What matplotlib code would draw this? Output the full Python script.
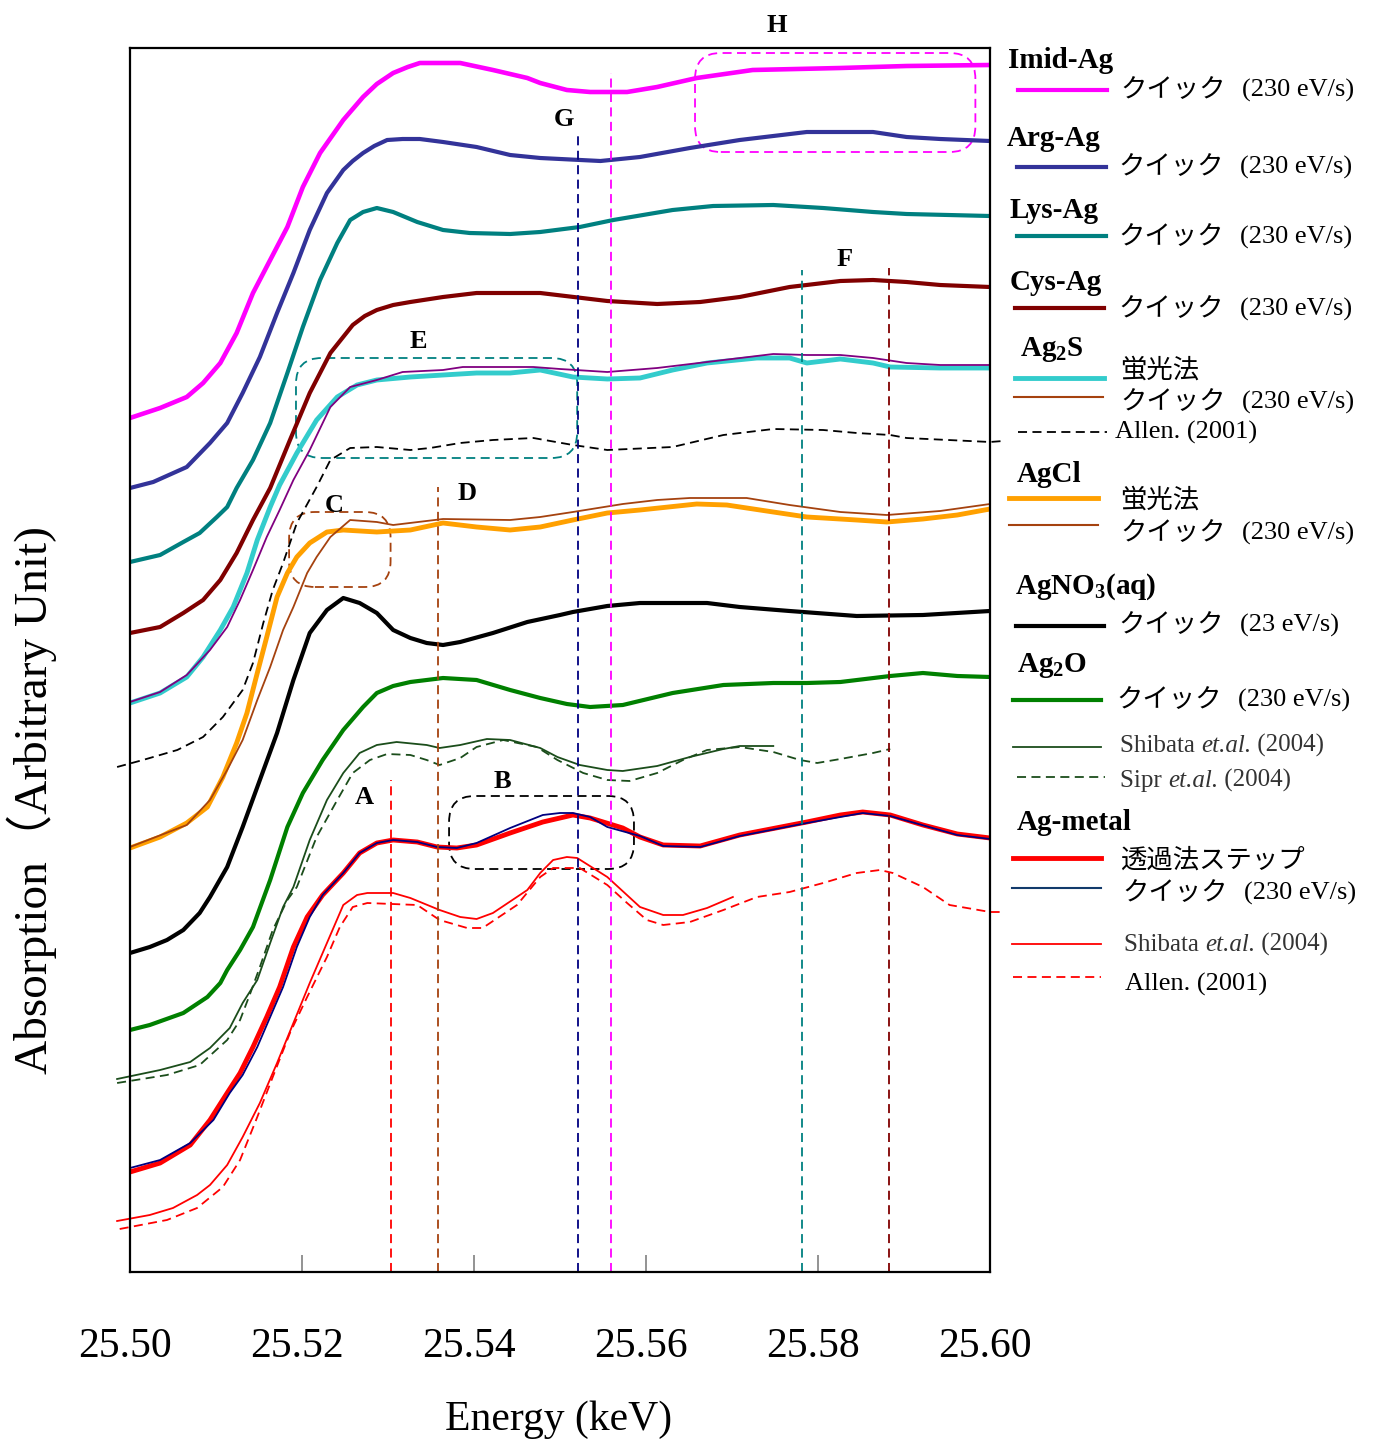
import matplotlib
matplotlib.use('Agg')
import matplotlib.pyplot as plt
from matplotlib.patches import FancyBboxPatch
from matplotlib.lines import Line2D
from matplotlib.transforms import ScaledTranslation

plt.rcParams['font.family'] = ['Liberation Serif', 'Noto Sans CJK JP']
plt.rcParams['mathtext.fontset'] = 'custom'
plt.rcParams['mathtext.rm'] = 'Liberation Serif'
plt.rcParams['mathtext.bf'] = 'Liberation Serif:bold'
plt.rcParams['mathtext.it'] = 'Liberation Serif:italic'

# ---- data (energy in keV, absorption in arbitrary units) ----
imid_e = [25.5000, 25.5035, 25.5066, 25.5085, 25.5105, 25.5124, 25.5143, 25.5163, 25.5183, 25.5201, 25.5221, 25.5248, 25.5271, 25.5287, 25.5306, 25.5323, 25.5337, 25.5360, 25.5384, 25.5422, 25.5462, 25.5477, 25.5508, 25.5535, 25.5578, 25.5613, 25.5659, 25.5724, 25.5826, 25.5903, 25.6000]
imid_y = [8.54, 8.64, 8.75, 8.89, 9.09, 9.39, 9.79, 10.12, 10.45, 10.85, 11.19, 11.52, 11.75, 11.88, 11.99, 12.05, 12.09, 12.09, 12.09, 12.02, 11.94, 11.89, 11.82, 11.80, 11.80, 11.85, 11.94, 12.02, 12.04, 12.06, 12.07]

arg_e = [25.5000, 25.5027, 25.5066, 25.5093, 25.5113, 25.5131, 25.5151, 25.5171, 25.5190, 25.5209, 25.5229, 25.5248, 25.5259, 25.5271, 25.5284, 25.5299, 25.5317, 25.5337, 25.5364, 25.5403, 25.5442, 25.5477, 25.5547, 25.5593, 25.5651, 25.5709, 25.5787, 25.5864, 25.5903, 25.5942, 25.6000]
arg_y = [7.84, 7.90, 8.05, 8.29, 8.49, 8.79, 9.15, 9.59, 9.99, 10.42, 10.79, 11.02, 11.11, 11.19, 11.26, 11.32, 11.33, 11.33, 11.30, 11.25, 11.17, 11.14, 11.11, 11.15, 11.24, 11.32, 11.40, 11.40, 11.35, 11.33, 11.31]

lys_e = [25.5000, 25.5035, 25.5062, 25.5081, 25.5101, 25.5113, 25.5124, 25.5143, 25.5163, 25.5183, 25.5201, 25.5221, 25.5241, 25.5256, 25.5271, 25.5287, 25.5306, 25.5334, 25.5364, 25.5395, 25.5442, 25.5477, 25.5523, 25.5562, 25.5631, 25.5678, 25.5748, 25.5806, 25.5864, 25.5903, 25.6000]
lys_y = [7.10, 7.17, 7.30, 7.39, 7.55, 7.65, 7.84, 8.12, 8.49, 8.99, 9.45, 9.92, 10.29, 10.52, 10.60, 10.64, 10.60, 10.50, 10.42, 10.39, 10.38, 10.40, 10.45, 10.52, 10.62, 10.66, 10.67, 10.64, 10.60, 10.58, 10.56]

cys_e = [25.5000, 25.5035, 25.5062, 25.5085, 25.5105, 25.5124, 25.5143, 25.5163, 25.5186, 25.5209, 25.5233, 25.5259, 25.5273, 25.5287, 25.5306, 25.5326, 25.5364, 25.5403, 25.5477, 25.5555, 25.5613, 25.5663, 25.5709, 25.5767, 25.5826, 25.5864, 25.5903, 25.5942, 25.6000]
cys_y = [6.39, 6.45, 6.59, 6.72, 6.92, 7.19, 7.52, 7.84, 8.32, 8.79, 9.19, 9.47, 9.56, 9.62, 9.67, 9.70, 9.75, 9.79, 9.79, 9.71, 9.68, 9.70, 9.75, 9.85, 9.91, 9.92, 9.90, 9.87, 9.85]

ag2s_fl_e = [25.5000, 25.5035, 25.5066, 25.5085, 25.5105, 25.5120, 25.5136, 25.5148, 25.5163, 25.5174, 25.5194, 25.5217, 25.5241, 25.5264, 25.5287, 25.5326, 25.5364, 25.5403, 25.5442, 25.5477, 25.5515, 25.5555, 25.5593, 25.5631, 25.5671, 25.5729, 25.5767, 25.5787, 25.5826, 25.5864, 25.5884, 25.5942, 25.6000]
ag2s_fl_y = [5.69, 5.79, 5.95, 6.15, 6.42, 6.65, 6.99, 7.32, 7.65, 7.87, 8.19, 8.52, 8.75, 8.87, 8.92, 8.95, 8.97, 8.99, 8.99, 9.02, 8.95, 8.93, 8.94, 9.02, 9.09, 9.14, 9.14, 9.09, 9.13, 9.09, 9.05, 9.04, 9.04]

ag2s_q_e = [25.5000, 25.5035, 25.5066, 25.5093, 25.5113, 25.5128, 25.5143, 25.5159, 25.5174, 25.5190, 25.5209, 25.5233, 25.5256, 25.5287, 25.5317, 25.5364, 25.5387, 25.5469, 25.5500, 25.5555, 25.5613, 25.5671, 25.5748, 25.5787, 25.5826, 25.5864, 25.5903, 25.5942, 25.6000]
ag2s_q_y = [5.70, 5.80, 5.97, 6.22, 6.45, 6.72, 7.02, 7.35, 7.62, 7.92, 8.22, 8.65, 8.85, 8.92, 9.00, 9.02, 9.05, 9.05, 9.03, 9.00, 9.04, 9.10, 9.18, 9.17, 9.17, 9.14, 9.09, 9.07, 9.07]

ag2s_allen_e = [25.4985, 25.5015, 25.5055, 25.5085, 25.5108, 25.5131, 25.5143, 25.5155, 25.5166, 25.5178, 25.5194, 25.5217, 25.5233, 25.5256, 25.5287, 25.5326, 25.5349, 25.5384, 25.5422, 25.5469, 25.5515, 25.5555, 25.5631, 25.5690, 25.5748, 25.5806, 25.5845, 25.5884, 25.5903, 25.6000, 25.6015]
ag2s_allen_y = [5.05, 5.12, 5.22, 5.35, 5.55, 5.82, 6.09, 6.49, 6.82, 7.09, 7.49, 7.85, 8.12, 8.24, 8.25, 8.22, 8.24, 8.29, 8.32, 8.34, 8.27, 8.22, 8.25, 8.37, 8.43, 8.42, 8.39, 8.37, 8.34, 8.30, 8.31]

agcl_fl_e = [25.5000, 25.5035, 25.5066, 25.5090, 25.5108, 25.5124, 25.5136, 25.5148, 25.5159, 25.5171, 25.5183, 25.5194, 25.5209, 25.5229, 25.5248, 25.5287, 25.5326, 25.5364, 25.5403, 25.5442, 25.5477, 25.5515, 25.5555, 25.5593, 25.5659, 25.5694, 25.5748, 25.5787, 25.5845, 25.5880, 25.5922, 25.5962, 25.6000]
agcl_fl_y = [4.24, 4.35, 4.49, 4.65, 4.95, 5.29, 5.59, 5.99, 6.35, 6.75, 6.99, 7.15, 7.29, 7.40, 7.42, 7.40, 7.42, 7.49, 7.45, 7.42, 7.45, 7.52, 7.59, 7.62, 7.68, 7.67, 7.60, 7.55, 7.52, 7.50, 7.53, 7.57, 7.63]

agcl_q_e = [25.5000, 25.5066, 25.5093, 25.5113, 25.5131, 25.5148, 25.5163, 25.5178, 25.5190, 25.5206, 25.5217, 25.5233, 25.5256, 25.5287, 25.5306, 25.5364, 25.5442, 25.5477, 25.5515, 25.5573, 25.5613, 25.5651, 25.5717, 25.5767, 25.5826, 25.5880, 25.5942, 25.6000]
agcl_q_y = [4.25, 4.47, 4.72, 5.02, 5.32, 5.72, 6.05, 6.42, 6.65, 6.99, 7.15, 7.35, 7.52, 7.50, 7.47, 7.53, 7.52, 7.55, 7.60, 7.68, 7.72, 7.74, 7.74, 7.67, 7.60, 7.57, 7.61, 7.68]

agno3_e = [25.5000, 25.5023, 25.5043, 25.5062, 25.5081, 25.5093, 25.5113, 25.5131, 25.5151, 25.5171, 25.5190, 25.5209, 25.5229, 25.5248, 25.5267, 25.5287, 25.5306, 25.5326, 25.5345, 25.5364, 25.5384, 25.5422, 25.5462, 25.5500, 25.5515, 25.5555, 25.5593, 25.5671, 25.5709, 25.5767, 25.5845, 25.5922, 25.6000]
agno3_y = [3.19, 3.25, 3.32, 3.42, 3.59, 3.75, 4.05, 4.45, 4.92, 5.39, 5.92, 6.39, 6.62, 6.74, 6.69, 6.59, 6.42, 6.34, 6.29, 6.27, 6.30, 6.39, 6.50, 6.57, 6.60, 6.66, 6.69, 6.69, 6.65, 6.61, 6.56, 6.57, 6.61]

ag2o_e = [25.5000, 25.5023, 25.5062, 25.5090, 25.5105, 25.5113, 25.5128, 25.5143, 25.5163, 25.5183, 25.5201, 25.5224, 25.5248, 25.5271, 25.5287, 25.5306, 25.5326, 25.5364, 25.5403, 25.5442, 25.5477, 25.5508, 25.5535, 25.5573, 25.5631, 25.5690, 25.5748, 25.5787, 25.5826, 25.5884, 25.5922, 25.5962, 25.6000]
ag2o_y = [2.42, 2.47, 2.59, 2.75, 2.89, 3.02, 3.22, 3.45, 3.92, 4.45, 4.79, 5.12, 5.42, 5.65, 5.79, 5.86, 5.90, 5.94, 5.92, 5.82, 5.74, 5.68, 5.65, 5.67, 5.79, 5.87, 5.89, 5.89, 5.90, 5.96, 5.99, 5.96, 5.95]

ag2o_shibata_e = [25.4985, 25.5035, 25.5070, 25.5093, 25.5116, 25.5131, 25.5148, 25.5163, 25.5178, 25.5190, 25.5209, 25.5229, 25.5248, 25.5267, 25.5287, 25.5310, 25.5345, 25.5360, 25.5384, 25.5415, 25.5442, 25.5477, 25.5497, 25.5523, 25.5555, 25.5573, 25.5613, 25.5651, 25.5690, 25.5709, 25.5748]
ag2o_shibata_y = [1.93, 2.02, 2.10, 2.24, 2.44, 2.69, 2.92, 3.29, 3.65, 3.85, 4.32, 4.72, 4.99, 5.19, 5.27, 5.30, 5.27, 5.24, 5.27, 5.33, 5.32, 5.24, 5.15, 5.07, 5.02, 5.01, 5.06, 5.15, 5.23, 5.26, 5.26]

ag2o_sipr_e = [25.4985, 25.5043, 25.5081, 25.5113, 25.5128, 25.5140, 25.5151, 25.5166, 25.5183, 25.5194, 25.5217, 25.5241, 25.5259, 25.5279, 25.5299, 25.5326, 25.5345, 25.5360, 25.5384, 25.5403, 25.5434, 25.5473, 25.5497, 25.5527, 25.5555, 25.5581, 25.5613, 25.5643, 25.5671, 25.5709, 25.5748, 25.5779, 25.5799, 25.5826, 25.5864, 25.5884]
ag2o_sipr_y = [1.89, 1.97, 2.07, 2.32, 2.52, 2.79, 3.05, 3.42, 3.72, 3.85, 4.35, 4.72, 4.99, 5.12, 5.18, 5.17, 5.12, 5.07, 5.14, 5.25, 5.32, 5.25, 5.12, 4.99, 4.92, 4.91, 4.99, 5.12, 5.22, 5.25, 5.20, 5.12, 5.09, 5.13, 5.19, 5.23]

agm_step_e = [25.5000, 25.5035, 25.5070, 25.5093, 25.5113, 25.5128, 25.5143, 25.5159, 25.5174, 25.5190, 25.5206, 25.5224, 25.5248, 25.5267, 25.5287, 25.5306, 25.5334, 25.5357, 25.5380, 25.5403, 25.5442, 25.5480, 25.5515, 25.5535, 25.5573, 25.5593, 25.5620, 25.5663, 25.5709, 25.5787, 25.5826, 25.5852, 25.5884, 25.5922, 25.5962, 25.6000]
agm_step_y = [1.00, 1.09, 1.27, 1.52, 1.79, 1.99, 2.25, 2.55, 2.85, 3.25, 3.55, 3.77, 3.99, 4.19, 4.29, 4.32, 4.30, 4.25, 4.24, 4.27, 4.39, 4.50, 4.57, 4.54, 4.44, 4.35, 4.27, 4.26, 4.37, 4.50, 4.57, 4.60, 4.57, 4.47, 4.38, 4.34]

agm_q_e = [25.5000, 25.5035, 25.5070, 25.5097, 25.5116, 25.5131, 25.5148, 25.5163, 25.5178, 25.5194, 25.5209, 25.5224, 25.5248, 25.5267, 25.5287, 25.5306, 25.5334, 25.5357, 25.5380, 25.5403, 25.5442, 25.5480, 25.5500, 25.5515, 25.5535, 25.5555, 25.5593, 25.5620, 25.5663, 25.5709, 25.5787, 25.5852, 25.5884, 25.5962, 25.6000]
agm_q_y = [1.04, 1.12, 1.29, 1.52, 1.79, 1.97, 2.25, 2.55, 2.85, 3.25, 3.55, 3.77, 3.99, 4.19, 4.29, 4.32, 4.30, 4.25, 4.24, 4.29, 4.44, 4.57, 4.59, 4.59, 4.55, 4.45, 4.36, 4.26, 4.25, 4.36, 4.49, 4.59, 4.56, 4.37, 4.33]

agm_shibata_e = [25.4985, 25.5023, 25.5050, 25.5078, 25.5093, 25.5113, 25.5131, 25.5151, 25.5171, 25.5190, 25.5209, 25.5229, 25.5248, 25.5264, 25.5276, 25.5306, 25.5326, 25.5360, 25.5384, 25.5403, 25.5422, 25.5462, 25.5477, 25.5492, 25.5508, 25.5520, 25.5555, 25.5593, 25.5620, 25.5643, 25.5671, 25.5701]
agm_shibata_y = [0.51, 0.57, 0.64, 0.77, 0.87, 1.07, 1.35, 1.69, 2.09, 2.49, 2.89, 3.29, 3.67, 3.77, 3.79, 3.79, 3.74, 3.62, 3.55, 3.53, 3.59, 3.82, 3.99, 4.12, 4.15, 4.14, 3.95, 3.65, 3.57, 3.57, 3.64, 3.75]

agm_allen_e = [25.4988, 25.5043, 25.5078, 25.5108, 25.5128, 25.5148, 25.5166, 25.5186, 25.5206, 25.5229, 25.5244, 25.5259, 25.5276, 25.5334, 25.5360, 25.5392, 25.5410, 25.5450, 25.5477, 25.5492, 25.5523, 25.5555, 25.5578, 25.5601, 25.5620, 25.5651, 25.5690, 25.5729, 25.5767, 25.5806, 25.5845, 25.5872, 25.5887, 25.5922, 25.5953, 25.6000, 25.6012]
agm_allen_y = [0.43, 0.52, 0.64, 0.85, 1.12, 1.55, 1.95, 2.39, 2.75, 3.15, 3.45, 3.65, 3.69, 3.67, 3.52, 3.44, 3.44, 3.67, 3.95, 4.04, 4.04, 3.87, 3.69, 3.52, 3.47, 3.50, 3.62, 3.75, 3.80, 3.89, 3.99, 4.02, 3.99, 3.85, 3.67, 3.60, 3.60]

# feature markers A..H
vline_e = [25.5303, 25.5358, 25.5521, 25.5559, 25.5781, 25.5883]
vline_top = [4.92, 7.85, 11.39, 11.99, 10.02, 10.04]
vline_colors = ['#FF0000', '#A5420F', '#000080', '#FF00FF', '#008080', '#800000']

peak_labels = ['A', 'B', 'C', 'D', 'E', 'F', 'G', 'H']
peak_e = [25.5273, 25.5433, 25.5238, 25.5392, 25.5335, 25.5831, 25.5505, 25.5752]
peak_y = [4.75, 4.91, 7.67, 7.78, 9.30, 10.12, 11.52, 12.47]

# rounded boxes: x0, x1, y0, y1, colour
box_x0 = [25.5657, 25.5193, 25.5185, 25.5371]
box_x1 = [25.5983, 25.5520, 25.5303, 25.5586]
box_y0 = [11.20, 8.14, 6.85, 4.03]
box_y1 = [12.19, 9.14, 7.60, 4.76]
box_colors = ['#FF00FF', '#008080', '#A5420F', '#000000']

# ---- figure ----
W, H = 1378, 1448
fig = plt.figure(figsize=(W / 100, H / 100), dpi=100)
ax = fig.add_axes([130 / W, 176 / H, 860 / W, 1224 / H])
ax.set_xlim(25.50, 25.60)
ax.set_ylim(0, 12.24)

thick = 3.0
thin = 1.3
dash = (0, (5, 3))
ax.plot(imid_e, imid_y, color='#FF00FF', lw=thick + 0.3)
ax.plot(arg_e, arg_y, color='#333399', lw=thick)
ax.plot(lys_e, lys_y, color='#008080', lw=thick)
ax.plot(cys_e, cys_y, color='#800000', lw=thick)
ax.plot(ag2s_fl_e, ag2s_fl_y, color='#33CCCC', lw=thick + 0.5)
ax.plot(ag2s_q_e, ag2s_q_y, color='#800080', lw=thin)
ax.plot(ag2s_allen_e, ag2s_allen_y, color='black', lw=thin, ls=dash, clip_on=False)
ax.plot(agcl_fl_e, agcl_fl_y, color='#FFA000', lw=thick + 0.5)
ax.plot(agcl_q_e, agcl_q_y, color='#A5420F', lw=thin)
ax.plot(agno3_e, agno3_y, color='black', lw=thick)
ax.plot(ag2o_e, ag2o_y, color='#008000', lw=thick)
ax.plot(ag2o_shibata_e, ag2o_shibata_y, color='#1B4D1B', lw=thin, clip_on=False)
ax.plot(ag2o_sipr_e, ag2o_sipr_y, color='#1B4D1B', lw=thin, ls=dash, clip_on=False)
ax.plot(agm_step_e, agm_step_y, color='#FF0000', lw=thick + 0.5)
ax.plot(agm_q_e, agm_q_y, color='#000080', lw=thin)
ax.plot(agm_shibata_e, agm_shibata_y, color='#FF0000', lw=thin, clip_on=False)
ax.plot(agm_allen_e, agm_allen_y, color='#FF0000', lw=thin, ls=dash, clip_on=False)

for e, top, c in zip(vline_e, vline_top, vline_colors):
    ax.plot([e, e], [0, top], color=c, lw=thin, ls=dash)

for lab, e, y in zip(peak_labels, peak_e, peak_y):
    ax.text(e, y, lab, fontsize=19, fontweight='bold', ha='center', va='center', clip_on=False)

# y units per x unit so the corners stay round on screen
aspect = (12.24 / 1224) / (0.1 / 860)
for x0, x1, y0, y1, c in zip(box_x0, box_x1, box_y0, box_y1, box_colors):
    ax.add_patch(FancyBboxPatch((x0, y0), x1 - x0, y1 - y0,
                                boxstyle='round,pad=0,rounding_size=0.003',
                                mutation_aspect=aspect, fill=False,
                                ec=c, lw=thin, ls=dash))

ax.set_yticks([])
ax.set_xticks([25.50, 25.52, 25.54, 25.56, 25.58, 25.60])
ax.set_xticklabels(['25.50', '25.52', '25.54', '25.56', '25.58', '25.60'], fontsize=30)
ax.tick_params(axis='x', direction='in', length=12, width=1.2, color='#808080', pad=40)
shift = ScaledTranslation(-5 / 100, 0, fig.dpi_scale_trans)
for lbl in ax.get_xticklabels():
    lbl.set_transform(lbl.get_transform() + shift)
for s in ax.spines.values():
    s.set_linewidth(1.6)


def fx(px):
    return px / W


def fy(py):
    return 1 - py / H


fig.text(fx(559), fy(1420), 'Energy (keV)', fontsize=30, ha='center', va='center')
fig.text(fx(32), fy(800), 'Absorption（Arbitrary Unit)', fontsize=34, rotation=90,
         ha='center', va='center')

# ---- legend drawn by hand on the right ----
titles = [('Imid-Ag', 1008, 61), ('Arg-Ag', 1007, 138), ('Lys-Ag', 1010, 210),
          ('Cys-Ag', 1010, 283), (r'$\mathbf{Ag_2S}$', 1020, 350), ('AgCl', 1017, 475),
          (r'$\mathbf{AgNO_3(aq)}$', 1015, 587), (r'$\mathbf{Ag_2O}$', 1017, 665),
          ('Ag-metal', 1017, 822)]
for t, px, py in titles:
    fig.text(fx(px), fy(py), t, fontsize=21, fontweight='bold', ha='left', va='center')

handles = [(1018, 1107, 90, '#FF00FF', thick, '-'),
           (1017, 1106, 167, '#333399', thick, '-'),
           (1017, 1106, 236, '#008080', thick, '-'),
           (1015, 1104, 308, '#800000', thick, '-'),
           (1015, 1104, 378, '#33CCCC', thick + 0.5, '-'),
           (1014, 1103, 397, '#A5420F', 1.5, '-'),
           (1018, 1107, 432, 'black', thin, dash),
           (1009, 1098, 498, '#FFA000', thick + 0.5, '-'),
           (1009, 1098, 525, '#A5420F', 1.5, '-'),
           (1016, 1104, 626, 'black', thick, '-'),
           (1013, 1101, 700, '#008000', thick, '-'),
           (1013, 1101, 747, '#1B4D1B', thin, '-'),
           (1017, 1105, 777, '#1B4D1B', thin, dash),
           (1013, 1101, 858, '#FF0000', thick + 0.5, '-'),
           (1012, 1101, 888, '#123A6B', 1.5, '-'),
           (1012, 1101, 944, '#FF0000', thin, '-'),
           (1013, 1101, 977, '#FF0000', thin, dash)]
for x0, x1, py, c, lw, ls in handles:
    fig.add_artist(Line2D([fx(x0), fx(x1)], [fy(py), fy(py)], transform=fig.transFigure,
                          color=c, lw=lw, ls=ls))

quick_rows = [(1120, 90, '(230 eV/s)'), (1118, 167, '(230 eV/s)'), (1118, 237, '(230 eV/s)'),
              (1118, 309, '(230 eV/s)'), (1120, 402, '(230 eV/s)'), (1120, 533, '(230 eV/s)'),
              (1118, 625, '(23 eV/s)'), (1116, 700, '(230 eV/s)'), (1122, 893, '(230 eV/s)')]
for px, py, rate in quick_rows:
    fig.text(fx(px), fy(py), 'クイック', fontsize=19, family='Noto Sans CJK JP',
             ha='left', va='center')
    fig.text(fx(px + 122), fy(py), rate, fontsize=19, ha='left', va='center')

for py in [370, 500]:
    fig.text(fx(1120), fy(py), '蛍光法', fontsize=19, family='Noto Sans CJK JP',
             ha='left', va='center')
fig.text(fx(1120), fy(860), '透過法ステップ', fontsize=19, family='Noto Sans CJK JP',
         ha='left', va='center')

fig.text(fx(1115), fy(432), 'Allen. (2001)', fontsize=19, ha='left', va='center')
fig.text(fx(1125), fy(984), 'Allen. (2001)', fontsize=19, ha='left', va='center')

# "Name et.al. (2004)" with the et.al. part in italics, pieces chained one after another
ref_rows = [('Shibata ', 1120, 745), ('Sipr ', 1120, 780), ('Shibata ', 1124, 944)]
for name, px, py in ref_rows:
    t1 = fig.text(fx(px), fy(py) - 0.008, name, fontsize=18, color='#333333',
                  ha='left', va='bottom')
    t2 = ax.annotate('et.al.', xy=(1, 0), xycoords=t1, fontsize=18, color='#333333',
                     style='italic', ha='left', va='bottom', annotation_clip=False)
    ax.annotate(' (2004)', xy=(1, 0), xycoords=t2, fontsize=18, color='#333333',
                ha='left', va='bottom', annotation_clip=False)

fig.savefig('out.png', dpi=100)
